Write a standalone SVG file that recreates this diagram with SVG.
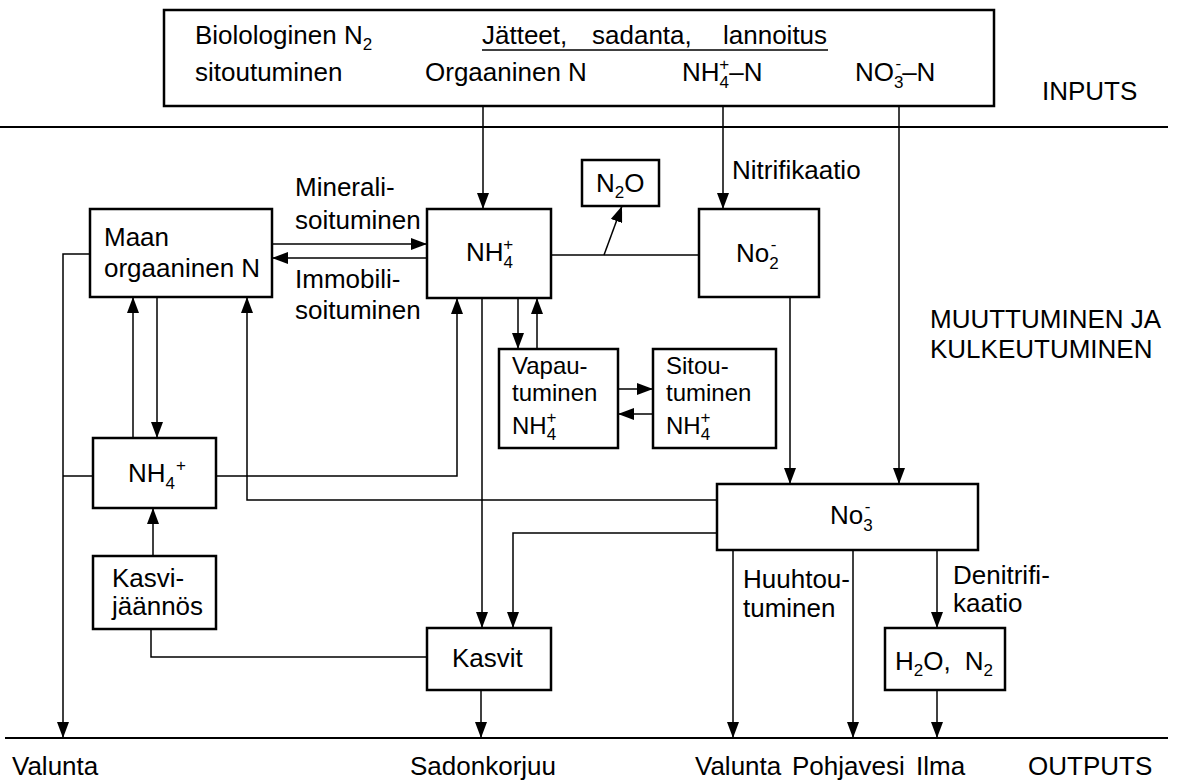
<svg xmlns="http://www.w3.org/2000/svg" width="1180" height="781" viewBox="0 0 1180 781">
<style>
text{font-family:"Liberation Sans",Arial,sans-serif;font-size:26px;fill:#000}
.s{font-size:17px}
.m{font-size:24px}
.box{fill:#fff;stroke:#000;stroke-width:2.5}
.c{fill:none;stroke:#000;stroke-width:1.5}
.a{marker-end:url(#ah)}
.rule{stroke:#000;stroke-width:2}
</style>
<defs>
<marker id="ah" markerUnits="userSpaceOnUse" markerWidth="16" markerHeight="12" refX="16" refY="6" orient="auto">
<path d="M0,0 L16,6 L0,12 Z" fill="#000"/>
</marker>
</defs>
<rect width="1180" height="781" fill="#fff"/>

<g id="inputs">
<rect class="box" x="164" y="10" width="830" height="96"/>
<text x="195" y="44">Biolologinen N<tspan class="s" dy="6">2</tspan></text>
<text x="195" y="81">sitoutuminen</text>
<text x="482" y="44">Jätteet,</text>
<text x="592" y="44">sadanta,</text>
<text x="723" y="44">lannoitus</text>
<line x1="482" y1="50" x2="828" y2="50" stroke="#000" stroke-width="1.5"/>
<text x="425" y="81">Orgaaninen N</text>
<text x="682" y="81">NH<tspan class="s" dy="7">4</tspan><tspan class="s" dx="-9.7" dy="-18">+</tspan><tspan dy="11">–N</tspan></text>
<text x="855" y="81">NO<tspan class="s" dy="7">3</tspan><tspan class="s" dx="-8" dy="-19">-</tspan><tspan dx="1" dy="12">–N</tspan></text>
</g>
<text x="1042" y="100">INPUTS</text>
<line class="rule" x1="0" y1="127" x2="1168" y2="127"/>
<line class="rule" x1="5" y1="738" x2="1168" y2="738"/>
<text x="930" y="328">MUUTTUMINEN JA</text>
<text x="930" y="358">KULKEUTUMINEN</text>

<g id="connectors">
<path class="c a" d="M483,106 V209"/>
<path class="c a" d="M723,106 V209"/>
<path class="c a" d="M899,106 V484"/>
<path class="c a" d="M272,244 H427"/>
<path class="c a" d="M427,258 H272"/>
<path class="c" d="M551,255 H699"/>
<path class="c a" d="M604,255 L622,206"/>
<path class="c a" d="M90,254 H63 V738"/>
<path class="c" d="M93,476 H63"/>
<path class="c a" d="M133,438 V297"/>
<path class="c a" d="M157,297 V438"/>
<path class="c a" d="M216,476 H457 V298"/>
<path class="c a" d="M717,500 H247 V297"/>
<path class="c a" d="M717,533 H513 V628"/>
<path class="c a" d="M482,298 V628"/>
<path class="c a" d="M518,298 V349"/>
<path class="c a" d="M537,349 V298"/>
<path class="c a" d="M618,389 H653"/>
<path class="c a" d="M653,414 H618"/>
<path class="c a" d="M790,297 V484"/>
<path class="c a" d="M153,556 V508"/>
<path class="c" d="M151,629 V657 H427"/>
<path class="c a" d="M481,690 V738"/>
<path class="c a" d="M733,550 V738"/>
<path class="c a" d="M853,550 V738"/>
<path class="c a" d="M937,550 V628"/>
<path class="c a" d="M937,690 V738"/>
</g>

<g id="labels">
<text x="295" y="196">Minerali-</text>
<text x="295" y="229">soituminen</text>
<text x="295" y="288">Immobili-</text>
<text x="295" y="319">soituminen</text>
<text x="732" y="179">Nitrifikaatio</text>
<text x="743" y="588">Huuhtou-</text>
<text x="743" y="617">tuminen</text>
<text x="953" y="584">Denitrifi-</text>
<text x="953" y="612">kaatio</text>
</g>

<g id="maan">
<rect class="box" x="90" y="209" width="182" height="88"/>
<text x="104" y="246">Maan</text>
<text x="104" y="277">orgaaninen N</text>
</g>
<g id="nh4">
<rect class="box" x="427" y="209" width="124" height="89"/>
<text x="466" y="261">NH<tspan class="s" dy="7">4</tspan><tspan class="s" dx="-9.7" dy="-18">+</tspan></text>
</g>
<g id="n2o">
<rect class="box" x="582" y="160" width="77" height="46"/>
<text x="596" y="192">N<tspan class="s" dy="6">2</tspan><tspan dy="-6">O</tspan></text>
</g>
<g id="no2">
<rect class="box" x="699" y="209" width="120" height="88"/>
<text x="736" y="262">No<tspan class="s" dy="7">2</tspan><tspan class="s" dx="-8" dy="-19">-</tspan></text>
</g>
<g id="vapau">
<rect class="box" x="499" y="349" width="119" height="99"/>
<text class="m" x="512" y="374">Vapau-</text>
<text class="m" x="512" y="401">tuminen</text>
<text class="m" x="512" y="434">NH<tspan class="s" dy="6">4</tspan><tspan class="s" dx="-9.7" dy="-17">+</tspan></text>
</g>
<g id="sitou">
<rect class="box" x="653" y="349" width="123" height="99"/>
<text class="m" x="666" y="374">Sitou-</text>
<text class="m" x="666" y="401">tuminen</text>
<text class="m" x="666" y="434">NH<tspan class="s" dy="6">4</tspan><tspan class="s" dx="-9.7" dy="-17">+</tspan></text>
</g>
<g id="nh4low">
<rect class="box" x="93" y="438" width="123" height="70"/>
<text x="128" y="482">NH<tspan class="s" dy="7">4</tspan><tspan class="s" dx="1" dy="-18">+</tspan></text>
</g>
<g id="no3">
<rect class="box" x="717" y="484" width="261" height="66"/>
<text x="830" y="524">No<tspan class="s" dy="7">3</tspan><tspan class="s" dx="-8" dy="-19">-</tspan></text>
</g>
<g id="kasvi">
<rect class="box" x="93" y="556" width="123" height="73"/>
<text x="112" y="587">Kasvi-</text>
<text x="112" y="615">jäännös</text>
</g>
<g id="kasvit">
<rect class="box" x="427" y="628" width="124" height="62"/>
<text x="452" y="667">Kasvit</text>
</g>
<g id="h2o">
<rect class="box" x="885" y="628" width="120" height="62"/>
<text x="895" y="670">H<tspan class="s" dy="6">2</tspan><tspan dy="-6">O,</tspan><tspan dx="14">N</tspan><tspan class="s" dy="6">2</tspan></text>
</g>

<g id="outputs">
<text x="12" y="775">Valunta</text>
<text x="410" y="775">Sadonkorjuu</text>
<text x="695" y="775">Valunta</text>
<text x="792" y="775">Pohjavesi</text>
<text x="916" y="775">Ilma</text>
<text x="1028" y="775">OUTPUTS</text>
</g>
</svg>
